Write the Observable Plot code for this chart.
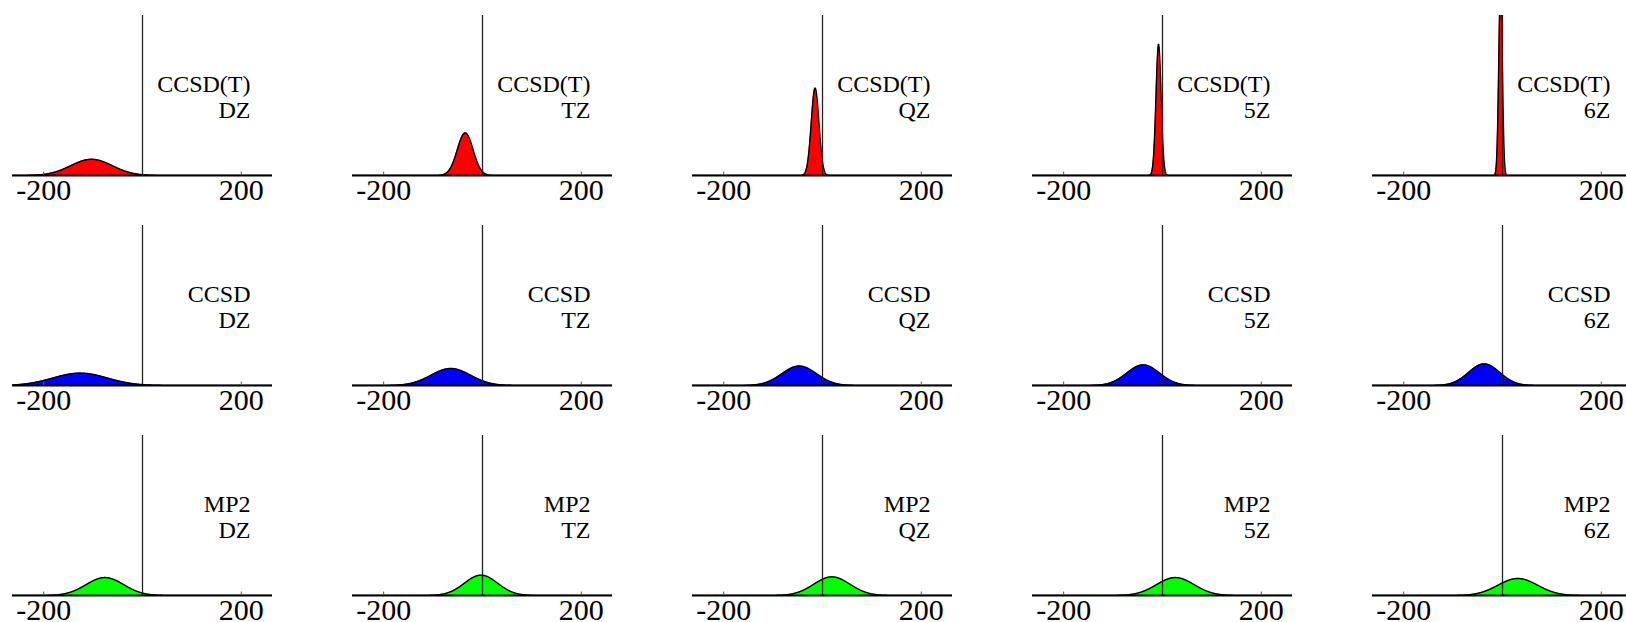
<!DOCTYPE html>
<html><head><meta charset="utf-8">
<script src="https://cdn.jsdelivr.net/npm/d3@7"></script>
<script src="https://cdn.jsdelivr.net/npm/@observablehq/plot@0.6"></script>
<style>
html,body{margin:0;padding:0;background:#fff;overflow:hidden;}
#chart{position:relative;width:1626px;height:622px;overflow:hidden;background:#fff;}
#chart > div{position:absolute;}
#chart svg{max-width:none !important;}
</style></head><body><div id="chart"></div>
<script>
// Categories
const methods = ["CCSD(T)", "CCSD", "MP2"];
const bases = ["DZ", "TZ", "QZ", "5Z", "6Z"];
const colors = ["#ff0000", "#0000ff", "#00ff00"];
// Fitted normal error distributions (mean, standard deviation) per method / basis
const meanCCSDT = [-103, -35, -15, -8, -4];
const sdCCSDT   = [42, 16, 7.8, 5.2, 3.6];
const meanCCSD  = [-126, -64, -47, -39, -37];
const sdCCSD    = [55, 40, 35, 33, 31.5];
const meanMP2   = [-76, -3, 19, 26, 31];
const sdMP2     = [38, 33.5, 36.5, 38, 40];
const xTicks = [-200, 200];

const means = [meanCCSDT, meanCCSD, meanMP2];
const sds = [sdCCSDT, sdCCSD, sdMP2];

const xDomain = [-263, 263];
const yDomain = [0, 0.0936];
const frameW = 260, frameH = 160;
const colStep = 340, rowStep = 210;
const left0 = 12, top0 = 15;
const mL = 22, mR = 22, mT = 2, mB = 40;
const serif = "Liberation Serif";

function normalCurve(mu, sd) {
  const pts = [];
  for (let x = xDomain[0]; x <= xDomain[1] + 1e-9; x += 0.25) {
    const z = (x - mu) / sd;
    pts.push({x, y: Math.exp(-0.5 * z * z) / (sd * Math.sqrt(2 * Math.PI))});
  }
  return pts;
}

const chart = document.getElementById("chart");
methods.forEach((m, r) => {
  bases.forEach((b, c) => {
    const data = normalCurve(means[r][c], sds[r][c]);
    const W = frameW + mL + mR, H = frameH + mT + mB;
    const svg = Plot.plot({
      width: W,
      height: H,
      marginLeft: mL, marginRight: mR, marginTop: mT, marginBottom: mB,
      style: {background: "transparent", overflow: "visible", fontFamily: serif, color: "black", maxWidth: "none"},
      x: {domain: xDomain, axis: null},
      y: {domain: yDomain, axis: null},
      marks: [
        Plot.areaY(data, {x: "x", y: "y", fill: colors[r], clip: true}),
        Plot.lineY(data, {x: "x", y: "y", stroke: "black", strokeWidth: 1.4, clip: true}),
        Plot.ruleX([0], {stroke: "#222", strokeWidth: 1.3}),
        Plot.ruleY([0], {stroke: "black", strokeWidth: 1.8}),
        Plot.ruleX(xTicks, {y1: 0, y2: 0.002, stroke: "#555", strokeWidth: 1}),
        Plot.text(xTicks, {x: d => d, text: d => String(d), frameAnchor: "bottom", lineAnchor: "top", dy: 3, fontSize: 30, fontFamily: serif, fill: "black"}),
        Plot.text([m + "\n" + b], {frameAnchor: "top-right", dx: -22, dy: 58, textAnchor: "end", lineAnchor: "top", lineHeight: 1.08, fontSize: 24, fontFamily: serif, fill: "black"})
      ]
    });
    const wrap = document.createElement("div");
    wrap.style.left = (left0 + c * colStep - mL) + "px";
    wrap.style.top = (top0 + r * rowStep - mT) + "px";
    wrap.style.width = W + "px";
    wrap.style.height = H + "px";
    wrap.appendChild(svg);
    chart.appendChild(wrap);
  });
});
</script></body></html>
